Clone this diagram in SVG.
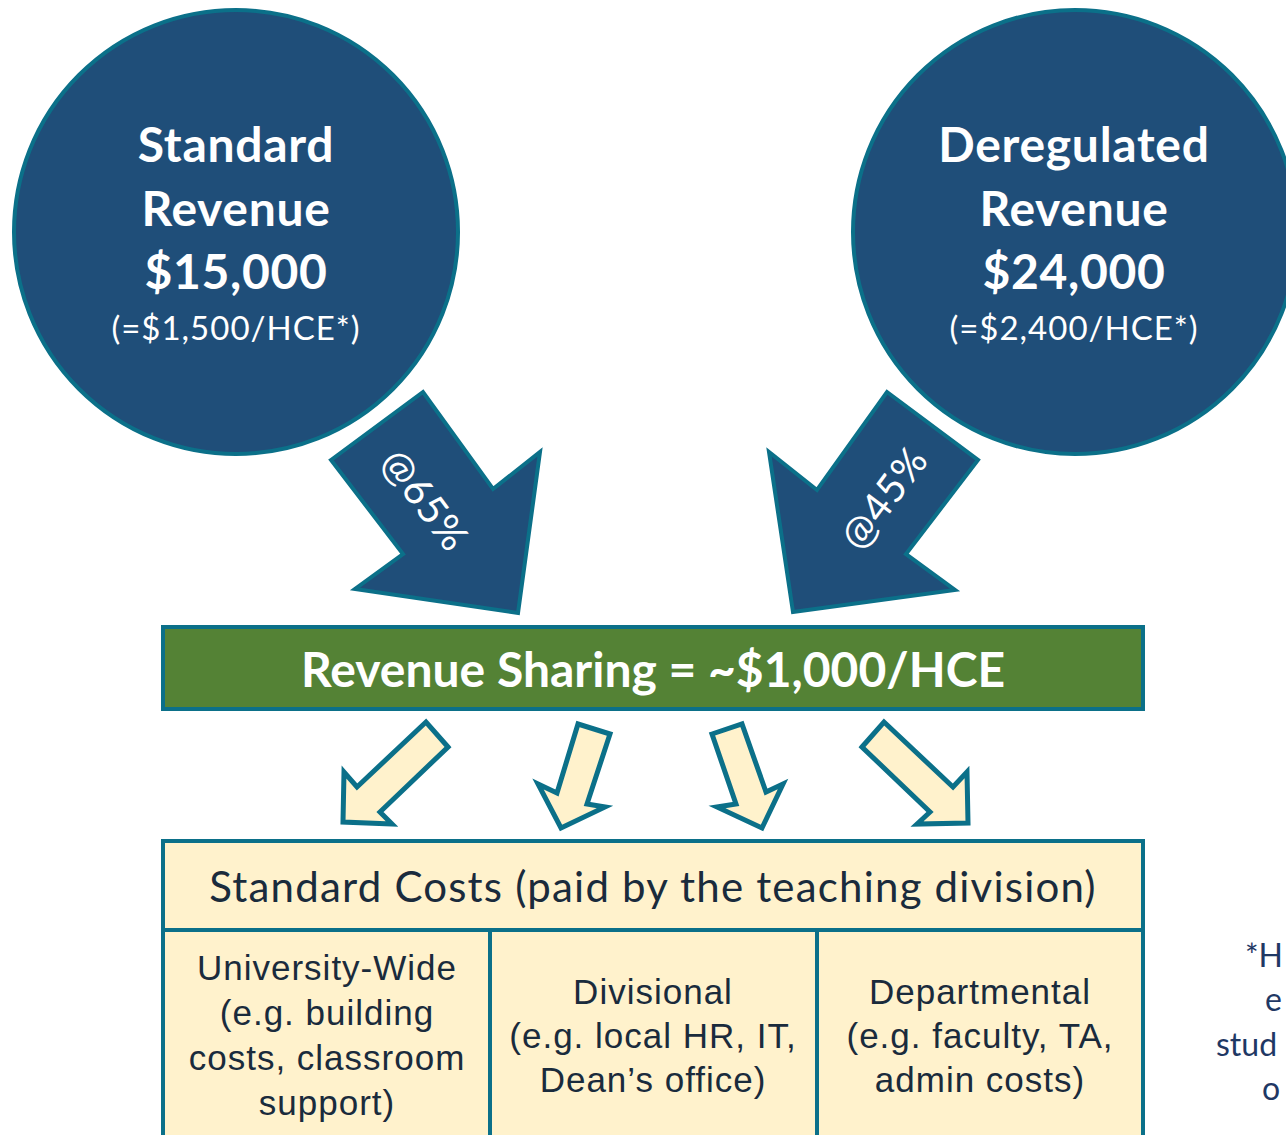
<svg xmlns="http://www.w3.org/2000/svg" width="1286" height="1135" viewBox="0 0 1286 1135">
  <style>
    .rev { fill: #1F4E79; stroke: #0B7089; stroke-width: 4; }
    .big-arrow { fill: #1F4E79; stroke: #0B7089; stroke-width: 4; stroke-linejoin: miter; }
    .small-arrow { fill: #FFF2CC; stroke: #0B7089; stroke-width: 5; stroke-linejoin: miter; }
    .share { fill: #548235; stroke: #0B7089; stroke-width: 4; }
    .cost { fill: #FFF2CC; stroke: #0B7089; stroke-width: 4; }
    .divider { stroke: #0B7089; stroke-width: 4; }
    .title { font-family: Lato, "Open Sans", sans-serif; font-weight: bold; font-size: 48px; letter-spacing: 0.7px; fill: #FFFFFF; text-anchor: middle; }
    .bar { font-family: Lato, "Open Sans", sans-serif; font-weight: bold; font-size: 48px; fill: #FFFFFF; text-anchor: middle; }
    .sub { font-family: Lato, "Open Sans", sans-serif; font-size: 33px; letter-spacing: 1px; fill: #FFFFFF; text-anchor: middle; }
    .pct { font-family: Lato, "Open Sans", sans-serif; font-size: 40px; letter-spacing: 1px; fill: #FFFFFF; text-anchor: middle; }
    .head { font-family: Lato, "Open Sans", sans-serif; font-size: 42px; letter-spacing: 1.2px; fill: #1A2B3C; text-anchor: middle; }
    .col { font-family: "Liberation Sans", Arial, sans-serif; font-size: 35px; letter-spacing: 1px; fill: #1A2B3C; text-anchor: middle; }
    .note { font-family: Lato, "Open Sans", sans-serif; font-size: 32px; fill: #1F3864; }
  </style>

  <!-- revenue sources -->
  <g id="standard-revenue">
    <circle class="rev" cx="236" cy="232" r="222"/>
    <text class="title" x="236" y="162">Standard</text>
    <text class="title" x="236" y="226">Revenue</text>
    <text class="title" x="236" y="289">$15,000</text>
    <text class="sub" x="236" y="340">(=$1,500/HCE*)</text>
  </g>

  <g id="deregulated-revenue">
    <circle class="rev" cx="1075" cy="232" r="222"/>
    <text class="title" x="1074" y="162">Deregulated</text>
    <text class="title" x="1074" y="226">Revenue</text>
    <text class="title" x="1074" y="289">$24,000</text>
    <text class="sub" x="1074" y="340">(=$2,400/HCE*)</text>
  </g>

  <!-- flows into revenue sharing and out to the cost categories -->
  <g id="connectors">
    <g id="arrow-standard">
      <polygon class="big-arrow" points="331,460 423,392 493,489 540,452 518,613 355,589 403,554"/>
      <text class="pct" transform="translate(425,500) rotate(53)" x="0" y="14">@65%</text>
    </g>
    <g id="arrow-deregulated">
      <polygon class="big-arrow" points="887,392 978,460 906,554 955,590 793,612 769,452 817,490"/>
      <text class="pct" transform="translate(884,498) rotate(-53)" x="0" y="14">@45%</text>
    </g>
    <polygon class="small-arrow" points="448,747 426,722 357,787 344,772 343,822 392,824 380,812"/>
    <polygon class="small-arrow" points="578,724 610,734 587,804 605,807 561,828 538,784 557,793"/>
    <polygon class="small-arrow" points="712,734 742,724 766,792 783,784 762,828 717,807 736,804"/>
    <polygon class="small-arrow" points="862,747 884,722 953,787 967,772 968,823 917,824 930,812"/>
  </g>

  <g id="revenue-sharing">
    <rect class="share" x="163" y="627" width="980" height="82"/>
    <text class="bar" x="653" y="687">Revenue Sharing = ~$1,000/HCE</text>
  </g>

  <g id="standard-costs">
    <rect class="cost" x="163" y="841" width="980" height="320"/>
    <line class="divider" x1="163" y1="930" x2="1143" y2="930"/>
    <line class="divider" x1="490" y1="930" x2="490" y2="1140"/>
    <line class="divider" x1="817" y1="930" x2="817" y2="1140"/>
    <text class="head" x="653" y="902">Standard Costs (paid by the teaching division)</text>
  </g>

  <g id="university-wide">
    <text class="col" x="327" y="980">University-Wide</text>
    <text class="col" x="327" y="1025">(e.g. building</text>
    <text class="col" x="327" y="1070">costs, classroom</text>
    <text class="col" x="327" y="1115">support)</text>
  </g>

  <g id="divisional">
    <text class="col" x="653" y="1004">Divisional</text>
    <text class="col" x="653" y="1048">(e.g. local HR, IT,</text>
    <text class="col" x="653" y="1092">Dean’s office)</text>
  </g>

  <g id="departmental">
    <text class="col" x="980" y="1004">Departmental</text>
    <text class="col" x="980" y="1048">(e.g. faculty, TA,</text>
    <text class="col" x="980" y="1092">admin costs)</text>
  </g>

  <!-- footnote running off the right edge -->
  <g id="footnote">
    <text class="note" x="1245" y="967">*H</text>
    <text class="note" x="1265" y="1011">e</text>
    <text class="note" x="1216" y="1056">stud</text>
    <text class="note" x="1262" y="1100">o</text>
  </g>
</svg>
